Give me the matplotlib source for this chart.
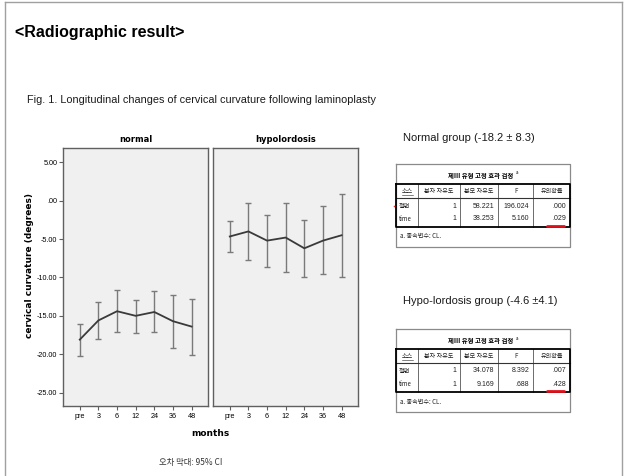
import matplotlib
matplotlib.use("Agg")
import matplotlib.pyplot as plt
import numpy as np

# ---------------- data ----------------
months = ['pre', '3', '6', '12', '24', '36', '48']
normal_mean = [-18.1, -15.6, -14.4, -15.0, -14.5, -15.7, -16.4]
normal_low = [-20.2, -18.0, -17.1, -17.2, -17.1, -19.2, -20.1]
normal_high = [-16.0, -13.2, -11.6, -13.0, -11.8, -12.3, -12.8]
hypo_mean = [-4.66, -4.0, -5.2, -4.8, -6.2, -5.2, -4.5]
hypo_low = [-6.7, -7.7, -8.6, -9.3, -9.9, -9.6, -10.0]
hypo_high = [-2.7, -0.3, -1.8, -0.3, -2.5, -0.7, 0.9]
yticks = [5, 0, -5, -10, -15, -20, -25]
ytick_labels = ['5.00', '.00', '-5.00', '-10.00', '-15.00', '-20.00', '-25.00']
panel_titles = ['normal', 'hypolordosis']

table_title = '제Ⅲ 유형 고정 효과 검정'
table_cols = ['소스', '분자 자유도', '분모 자유도', 'F', '유의확률']
normal_rows = [['절편', '1', '58.221', '196.024', '.000'],
               ['time', '1', '38.253', '5.160', '.029']]
hypo_rows = [['절편', '1', '34.078', '8.392', '.007'],
             ['time', '1', '9.169', '.688', '.428']]
table_note = 'a. 종속변수: CL.'
normal_label = 'Normal group (-18.2 ± 8.3)'
hypo_label = 'Hypo-lordosis group (-4.6 ±4.1)'

# ---------------- figure ----------------
W, H = 627, 476
fig = plt.figure(figsize=(W / 100, H / 100), dpi=100)
fig.patch.set_facecolor('white')

KR = ['Noto Sans CJK KR', 'DejaVu Sans']
SANS = ['Liberation Sans', 'DejaVu Sans']

# overlay in pixel coords
ov = fig.add_axes([0, 0, 1, 1], zorder=0)
ov.set_xlim(0, W)
ov.set_ylim(H, 0)
ov.axis('off')

# slide frame
ov.plot([5, 5], [2, H], color='#a0a0a0', lw=1)
ov.plot([5, 622], [2, 2], color='#a0a0a0', lw=1)
ov.plot([622, 622], [2, H], color='#a0a0a0', lw=1)

ov.text(15, 32, '<Radiographic result>', family=SANS, fontsize=11.5,
        fontweight='bold', va='center', ha='left')
ov.text(27, 100, 'Fig. 1. Longitudinal changes of cervical curvature following laminoplasty',
        family=SANS, fontsize=7.8, va='center', ha='left', color='#1a1a1a')


def px_axes(x0, y0, x1, y1):
    return fig.add_axes([x0 / W, (H - y1) / H, (x1 - x0) / W, (y1 - y0) / H], zorder=2)


panels = [(63, 208), (213, 358)]
series = [(normal_mean, normal_low, normal_high), (hypo_mean, hypo_low, hypo_high)]
x = np.arange(len(months))
for i, ((x0, x1), (m, lo, hi)) in enumerate(zip(panels, series)):
    ax = px_axes(x0, 148, x1, 406)
    ax.set_facecolor('#f0f0f0')
    for s in ax.spines.values():
        s.set_color('#606060')
        s.set_linewidth(1.0)
    m = np.array(m)
    lo = np.array(lo)
    hi = np.array(hi)
    ax.errorbar(x, m, yerr=[m - lo, hi - m], fmt='none', ecolor='#7a7a7a',
                elinewidth=1.0, capsize=2.2, capthick=1.0)
    ax.plot(x, m, color='#3a3a3a', lw=1.3)
    ax.set_xlim(-0.9, 6.88)
    ax.set_ylim(-26.75, 6.87)
    ax.set_xticks(x)
    ax.set_xticklabels(months, family=SANS, fontsize=5.2)
    ax.tick_params(axis='x', length=3, width=0.8, color='#606060', pad=2)
    if i == 0:
        ax.set_yticks(yticks)
        ax.set_yticklabels(ytick_labels, family=SANS, fontsize=5.2)
        ax.tick_params(axis='y', length=3, width=0.8, color='#606060', pad=1)
    else:
        ax.set_yticks([])
    ov.text((x0 + x1) / 2, 139, panel_titles[i], family=['DejaVu Sans'], fontsize=6,
            fontweight='bold', ha='center', va='center')

ov.text(30, 265, 'cervical curvature (degrees)', family=['DejaVu Sans'], fontsize=6.5,
        fontweight='bold', rotation=90, ha='center', va='center')
ov.text(210, 434, 'months', family=['DejaVu Sans'], fontsize=6.5, fontweight='bold',
        ha='center', va='center')
ov.text(191, 463, '오차 막대: 95% CI', family=KR, fontsize=6, ha='center', va='center',
        color='#333333')


# ---------------- tables ----------------
colx = [396, 418.3, 460, 498.3, 533.3, 570]


def draw_table(top, label, rows, label_y, mark_row=1, dot=False):
    ov.text(403, label_y, label, family=SANS, fontsize=8.0, ha='left', va='center',
            color='#1a1a1a')
    # outer grey box
    bx0, bx1 = 396, 570
    ov.plot([bx0, bx1, bx1, bx0, bx0], [top, top, top + 83, top + 83, top],
            color='#8a8a8a', lw=0.9)
    ov.text(481, top + 11.5, table_title, family=KR, fontsize=4.6, fontweight='bold',
            ha='center', va='center')
    ov.text(515.5, top + 9, 'a', family=KR, fontsize=3.2, ha='left', va='center')
    t0, hb, t1 = top + 19.5, top + 33.5, top + 62.5
    # inner grid
    for cx in colx[1:-1]:
        ov.plot([cx, cx], [t0, t1], color='#555555', lw=0.6)
    ov.plot([colx[0], colx[-1]], [hb, hb], color='#333333', lw=0.8)
    ov.plot([colx[0], colx[-1], colx[-1], colx[0], colx[0]], [t0, t0, t1, t1, t0],
            color='black', lw=1.3)
    hy = top + 27
    for j, c in enumerate(table_cols):
        ov.text((colx[j] + colx[j + 1]) / 2, hy, c, family=KR, fontsize=4.4,
                ha='center', va='center', color='#222222')
    ov.plot([402, 413], [hy + 4, hy + 4], color='#222222', lw=0.4)
    for r, row in enumerate(rows):
        ry = top + 42 + r * 13
        for j, v in enumerate(row):
            if j == 0:
                ov.text(colx[0] + 3, ry, v, family=KR, fontsize=4.4, ha='left',
                        va='center', color='#222222')
            else:
                ov.text(colx[j + 1] - 4, ry, v, family=SANS, fontsize=5,
                        ha='right', va='center', color='#222222')
    # red underline on p-value
    ry = top + 42 + mark_row * 13
    ov.plot([547, 564], [ry + 6.5, ry + 6.5], color='#e0101a', lw=2.0,
            solid_capstyle='round')
    if dot:
        ov.plot([393.5], [top + 42], marker='o', ms=1.2, color='#e03030', mew=0)
    ov.text(400, top + 72.5, table_note, family=KR, fontsize=4.4, ha='left',
            va='center', color='#222222')


draw_table(164, normal_label, normal_rows, 138, dot=True)
draw_table(329, hypo_label, hypo_rows, 301)

fig.savefig('out.png', dpi=100, facecolor='white')
